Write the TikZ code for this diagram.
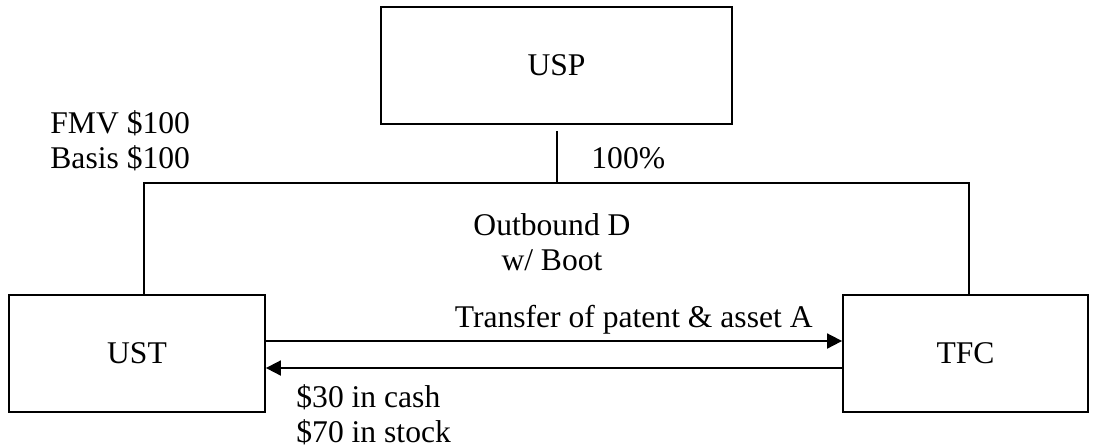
\documentclass[tikz,border=0pt]{standalone}
\usepackage{fontspec}
\setmainfont{Liberation Serif}
\usetikzlibrary{arrows.meta}
\begin{document}
\begin{tikzpicture}[x=0.5pt,y=-0.5pt,
  every node/.style={font=\fontsize{15.8}{17.5}\selectfont, inner sep=0pt},
  entity/.style={draw, line width=0.9pt, minimum height=58.5pt},
  link/.style={line width=0.8pt},
  flow/.style={line width=0.9pt, -{Triangle[length=7.5pt,width=7.5pt]}},
  lbl/.style={align=left}]
\useasboundingbox (0,0) rectangle (1094,447);
\node[entity, minimum width=175.5pt] (USP) at (556.5,65.5) {USP};
\node[entity, minimum width=128pt] (UST) at (137,353.5) {UST};
\node[entity, minimum width=122.5pt] (TFC) at (965.5,353.5) {TFC};
\coordinate (J) at (557,183);
\coordinate (L) at (144,183);
\coordinate (R) at (969,183);
\draw[link] ([yshift=-3pt]USP.south -| J) -- (J);
\draw[link] (UST.north -| L) -- (L) -- (R) -- (TFC.north -| R);
\draw[flow] ([yshift=6.25pt]UST.east) -- ([yshift=6.25pt]TFC.west);
\draw[flow] ([yshift=-7.25pt]TFC.west) -- ([yshift=-7.25pt]UST.east);
\node[lbl, anchor=west] (fmv) at (50,141) {FMV \$100\\Basis \$100};
\node[anchor=west] (pct) at (591,158) {100\%};
\node[align=center] (outd) at (552,242) {Outbound D\\w/ Boot};
\node[anchor=east] (xfer) at (813,320) {Transfer of patent \& asset A};
\node[lbl, anchor=west] (boot) at (296,415) {\$30 in cash\\\$70 in stock};
\end{tikzpicture}
\end{document}
